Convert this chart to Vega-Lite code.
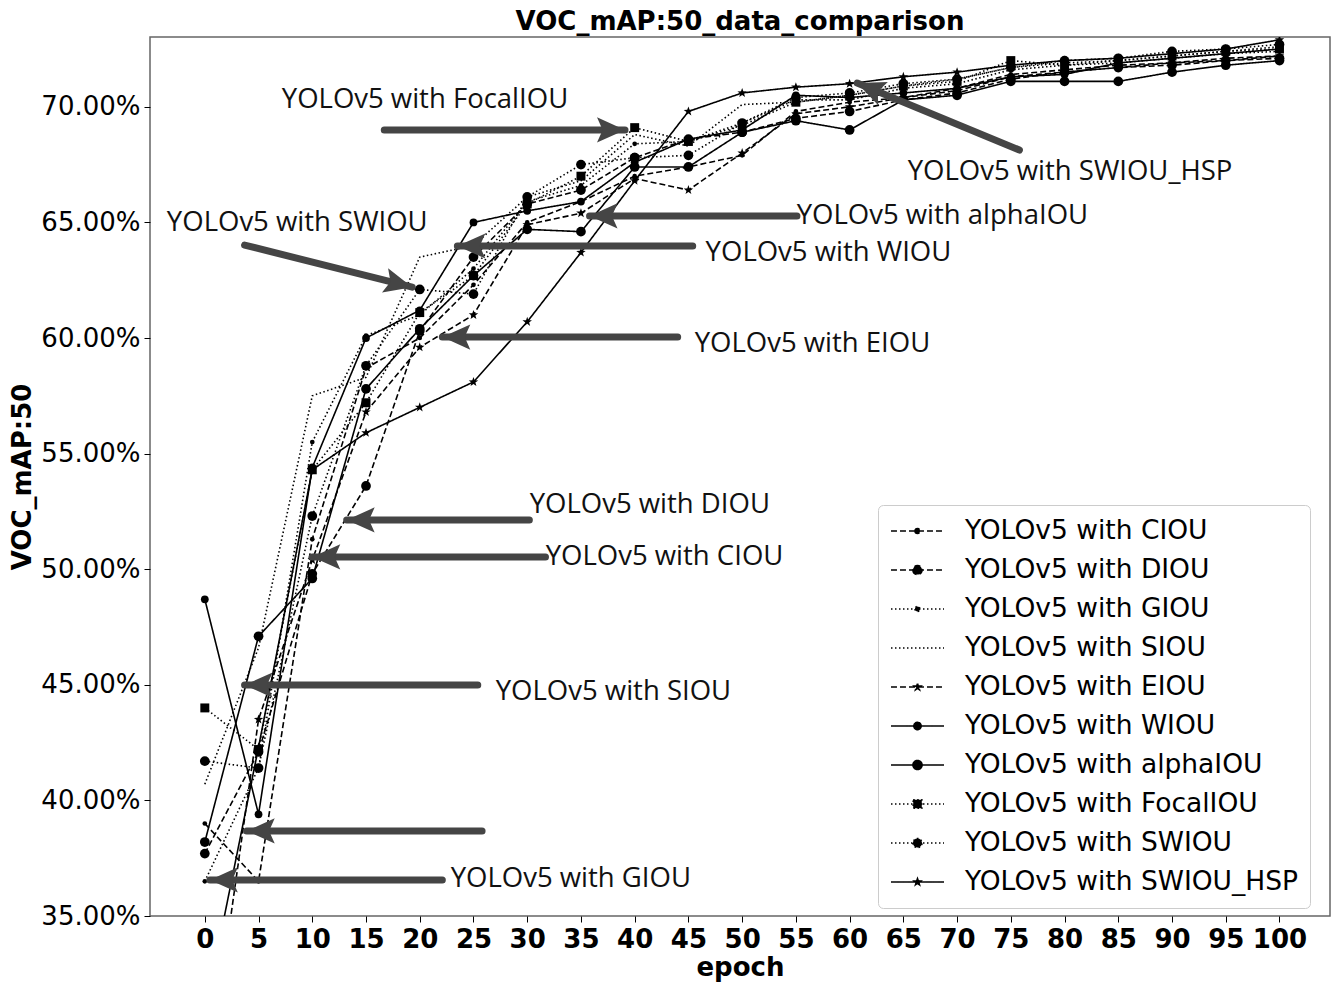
{
  "$schema": "https://vega.github.io/schema/vega-lite/v6.json",
  "width": 1180,
  "height": 879,
  "autosize": {"type": "none"},
  "padding": {"left": 150, "top": 37, "right": 3, "bottom": 67},
  "background": "white",
  "title": {"text": "VOC_mAP:50_data_comparison", "font": "DejaVu Sans", "fontSize": 26, "fontWeight": "bold", "color": "black", "anchor": "middle", "offset": 2},
  "config": {"view": {"stroke": "#666666", "strokeWidth": 1.5}},
  "datasets": {
    "curves": [
      {"model":"YOLOv5 with CIOU","epoch":0,"value":39.0},{"model":"YOLOv5 with CIOU","epoch":5,"value":36.5},{"model":"YOLOv5 with CIOU","epoch":10,"value":51.3},{"model":"YOLOv5 with CIOU","epoch":15,"value":58.7},{"model":"YOLOv5 with CIOU","epoch":20,"value":60.0},{"model":"YOLOv5 with CIOU","epoch":25,"value":62.3},{"model":"YOLOv5 with CIOU","epoch":30,"value":65.0},{"model":"YOLOv5 with CIOU","epoch":35,"value":65.9},{"model":"YOLOv5 with CIOU","epoch":40,"value":67.0},{"model":"YOLOv5 with CIOU","epoch":45,"value":67.4},{"model":"YOLOv5 with CIOU","epoch":50,"value":67.9},{"model":"YOLOv5 with CIOU","epoch":55,"value":69.8},{"model":"YOLOv5 with CIOU","epoch":60,"value":70.2},{"model":"YOLOv5 with CIOU","epoch":65,"value":70.4},{"model":"YOLOv5 with CIOU","epoch":70,"value":70.8},{"model":"YOLOv5 with CIOU","epoch":75,"value":71.4},{"model":"YOLOv5 with CIOU","epoch":80,"value":71.6},{"model":"YOLOv5 with CIOU","epoch":85,"value":71.8},{"model":"YOLOv5 with CIOU","epoch":90,"value":71.9},{"model":"YOLOv5 with CIOU","epoch":95,"value":72.1},{"model":"YOLOv5 with CIOU","epoch":100,"value":72.2},
      {"model":"YOLOv5 with DIOU","epoch":0,"value":37.7},{"model":"YOLOv5 with DIOU","epoch":5,"value":42.1},{"model":"YOLOv5 with DIOU","epoch":10,"value":49.8},{"model":"YOLOv5 with DIOU","epoch":15,"value":53.6},{"model":"YOLOv5 with DIOU","epoch":20,"value":60.3},{"model":"YOLOv5 with DIOU","epoch":25,"value":63.5},{"model":"YOLOv5 with DIOU","epoch":30,"value":65.8},{"model":"YOLOv5 with DIOU","epoch":35,"value":66.4},{"model":"YOLOv5 with DIOU","epoch":40,"value":67.8},{"model":"YOLOv5 with DIOU","epoch":45,"value":68.6},{"model":"YOLOv5 with DIOU","epoch":50,"value":68.9},{"model":"YOLOv5 with DIOU","epoch":55,"value":69.5},{"model":"YOLOv5 with DIOU","epoch":60,"value":69.8},{"model":"YOLOv5 with DIOU","epoch":65,"value":70.3},{"model":"YOLOv5 with DIOU","epoch":70,"value":70.6},{"model":"YOLOv5 with DIOU","epoch":75,"value":71.2},{"model":"YOLOv5 with DIOU","epoch":80,"value":71.5},{"model":"YOLOv5 with DIOU","epoch":85,"value":71.7},{"model":"YOLOv5 with DIOU","epoch":90,"value":71.8},{"model":"YOLOv5 with DIOU","epoch":95,"value":72.0},{"model":"YOLOv5 with DIOU","epoch":100,"value":72.1},
      {"model":"YOLOv5 with GIOU","epoch":0,"value":36.5},{"model":"YOLOv5 with GIOU","epoch":5,"value":41.4},{"model":"YOLOv5 with GIOU","epoch":10,"value":55.5},{"model":"YOLOv5 with GIOU","epoch":15,"value":60.1},{"model":"YOLOv5 with GIOU","epoch":20,"value":61.0},{"model":"YOLOv5 with GIOU","epoch":25,"value":63.0},{"model":"YOLOv5 with GIOU","epoch":30,"value":65.9},{"model":"YOLOv5 with GIOU","epoch":35,"value":66.6},{"model":"YOLOv5 with GIOU","epoch":40,"value":68.4},{"model":"YOLOv5 with GIOU","epoch":45,"value":68.5},{"model":"YOLOv5 with GIOU","epoch":50,"value":69.3},{"model":"YOLOv5 with GIOU","epoch":55,"value":70.3},{"model":"YOLOv5 with GIOU","epoch":60,"value":70.3},{"model":"YOLOv5 with GIOU","epoch":65,"value":70.8},{"model":"YOLOv5 with GIOU","epoch":70,"value":71.0},{"model":"YOLOv5 with GIOU","epoch":75,"value":71.6},{"model":"YOLOv5 with GIOU","epoch":80,"value":71.8},{"model":"YOLOv5 with GIOU","epoch":85,"value":71.9},{"model":"YOLOv5 with GIOU","epoch":90,"value":72.1},{"model":"YOLOv5 with GIOU","epoch":95,"value":72.3},{"model":"YOLOv5 with GIOU","epoch":100,"value":72.4},
      {"model":"YOLOv5 with SIOU","epoch":0,"value":40.7},{"model":"YOLOv5 with SIOU","epoch":5,"value":46.6},{"model":"YOLOv5 with SIOU","epoch":10,"value":57.5},{"model":"YOLOv5 with SIOU","epoch":15,"value":58.3},{"model":"YOLOv5 with SIOU","epoch":20,"value":63.5},{"model":"YOLOv5 with SIOU","epoch":25,"value":64.0},{"model":"YOLOv5 with SIOU","epoch":30,"value":66.1},{"model":"YOLOv5 with SIOU","epoch":35,"value":66.8},{"model":"YOLOv5 with SIOU","epoch":40,"value":68.8},{"model":"YOLOv5 with SIOU","epoch":45,"value":68.3},{"model":"YOLOv5 with SIOU","epoch":50,"value":70.1},{"model":"YOLOv5 with SIOU","epoch":55,"value":70.2},{"model":"YOLOv5 with SIOU","epoch":60,"value":70.5},{"model":"YOLOv5 with SIOU","epoch":65,"value":70.9},{"model":"YOLOv5 with SIOU","epoch":70,"value":71.2},{"model":"YOLOv5 with SIOU","epoch":75,"value":71.7},{"model":"YOLOv5 with SIOU","epoch":80,"value":71.9},{"model":"YOLOv5 with SIOU","epoch":85,"value":72.0},{"model":"YOLOv5 with SIOU","epoch":90,"value":72.2},{"model":"YOLOv5 with SIOU","epoch":95,"value":72.4},{"model":"YOLOv5 with SIOU","epoch":100,"value":72.6},
      {"model":"YOLOv5 with EIOU","epoch":0,"value":27.0},{"model":"YOLOv5 with EIOU","epoch":5,"value":43.5},{"model":"YOLOv5 with EIOU","epoch":10,"value":50.4},{"model":"YOLOv5 with EIOU","epoch":15,"value":56.8},{"model":"YOLOv5 with EIOU","epoch":20,"value":59.6},{"model":"YOLOv5 with EIOU","epoch":25,"value":61.0},{"model":"YOLOv5 with EIOU","epoch":30,"value":64.9},{"model":"YOLOv5 with EIOU","epoch":35,"value":65.4},{"model":"YOLOv5 with EIOU","epoch":40,"value":66.9},{"model":"YOLOv5 with EIOU","epoch":45,"value":66.4},{"model":"YOLOv5 with EIOU","epoch":50,"value":68.0},{"model":"YOLOv5 with EIOU","epoch":55,"value":69.7},{"model":"YOLOv5 with EIOU","epoch":60,"value":70.0},{"model":"YOLOv5 with EIOU","epoch":65,"value":70.4},{"model":"YOLOv5 with EIOU","epoch":70,"value":70.7},{"model":"YOLOv5 with EIOU","epoch":75,"value":71.3},{"model":"YOLOv5 with EIOU","epoch":80,"value":71.5},{"model":"YOLOv5 with EIOU","epoch":85,"value":71.7},{"model":"YOLOv5 with EIOU","epoch":90,"value":71.9},{"model":"YOLOv5 with EIOU","epoch":95,"value":72.0},{"model":"YOLOv5 with EIOU","epoch":100,"value":72.2},
      {"model":"YOLOv5 with WIOU","epoch":0,"value":48.7},{"model":"YOLOv5 with WIOU","epoch":5,"value":39.4},{"model":"YOLOv5 with WIOU","epoch":10,"value":54.4},{"model":"YOLOv5 with WIOU","epoch":15,"value":60.0},{"model":"YOLOv5 with WIOU","epoch":20,"value":61.2},{"model":"YOLOv5 with WIOU","epoch":25,"value":65.0},{"model":"YOLOv5 with WIOU","epoch":30,"value":65.5},{"model":"YOLOv5 with WIOU","epoch":35,"value":65.9},{"model":"YOLOv5 with WIOU","epoch":40,"value":67.6},{"model":"YOLOv5 with WIOU","epoch":45,"value":68.6},{"model":"YOLOv5 with WIOU","epoch":50,"value":69.0},{"model":"YOLOv5 with WIOU","epoch":55,"value":70.5},{"model":"YOLOv5 with WIOU","epoch":60,"value":70.4},{"model":"YOLOv5 with WIOU","epoch":65,"value":70.6},{"model":"YOLOv5 with WIOU","epoch":70,"value":70.8},{"model":"YOLOv5 with WIOU","epoch":75,"value":71.3},{"model":"YOLOv5 with WIOU","epoch":80,"value":71.4},{"model":"YOLOv5 with WIOU","epoch":85,"value":71.9},{"model":"YOLOv5 with WIOU","epoch":90,"value":72.1},{"model":"YOLOv5 with WIOU","epoch":95,"value":72.3},{"model":"YOLOv5 with WIOU","epoch":100,"value":72.5},
      {"model":"YOLOv5 with alphaIOU","epoch":0,"value":38.2},{"model":"YOLOv5 with alphaIOU","epoch":5,"value":47.1},{"model":"YOLOv5 with alphaIOU","epoch":10,"value":49.6},{"model":"YOLOv5 with alphaIOU","epoch":15,"value":57.8},{"model":"YOLOv5 with alphaIOU","epoch":20,"value":60.4},{"model":"YOLOv5 with alphaIOU","epoch":25,"value":62.7},{"model":"YOLOv5 with alphaIOU","epoch":30,"value":64.7},{"model":"YOLOv5 with alphaIOU","epoch":35,"value":64.6},{"model":"YOLOv5 with alphaIOU","epoch":40,"value":67.4},{"model":"YOLOv5 with alphaIOU","epoch":45,"value":67.4},{"model":"YOLOv5 with alphaIOU","epoch":50,"value":68.9},{"model":"YOLOv5 with alphaIOU","epoch":55,"value":69.4},{"model":"YOLOv5 with alphaIOU","epoch":60,"value":69.0},{"model":"YOLOv5 with alphaIOU","epoch":65,"value":70.3},{"model":"YOLOv5 with alphaIOU","epoch":70,"value":70.5},{"model":"YOLOv5 with alphaIOU","epoch":75,"value":71.1},{"model":"YOLOv5 with alphaIOU","epoch":80,"value":71.1},{"model":"YOLOv5 with alphaIOU","epoch":85,"value":71.1},{"model":"YOLOv5 with alphaIOU","epoch":90,"value":71.5},{"model":"YOLOv5 with alphaIOU","epoch":95,"value":71.8},{"model":"YOLOv5 with alphaIOU","epoch":100,"value":72.0},
      {"model":"YOLOv5 with FocalIOU","epoch":0,"value":44.0},{"model":"YOLOv5 with FocalIOU","epoch":5,"value":42.2},{"model":"YOLOv5 with FocalIOU","epoch":10,"value":54.3},{"model":"YOLOv5 with FocalIOU","epoch":15,"value":57.2},{"model":"YOLOv5 with FocalIOU","epoch":20,"value":61.1},{"model":"YOLOv5 with FocalIOU","epoch":25,"value":62.7},{"model":"YOLOv5 with FocalIOU","epoch":30,"value":65.8},{"model":"YOLOv5 with FocalIOU","epoch":35,"value":67.0},{"model":"YOLOv5 with FocalIOU","epoch":40,"value":69.1},{"model":"YOLOv5 with FocalIOU","epoch":45,"value":68.5},{"model":"YOLOv5 with FocalIOU","epoch":50,"value":69.2},{"model":"YOLOv5 with FocalIOU","epoch":55,"value":70.2},{"model":"YOLOv5 with FocalIOU","epoch":60,"value":70.5},{"model":"YOLOv5 with FocalIOU","epoch":65,"value":70.9},{"model":"YOLOv5 with FocalIOU","epoch":70,"value":71.1},{"model":"YOLOv5 with FocalIOU","epoch":75,"value":72.0},{"model":"YOLOv5 with FocalIOU","epoch":80,"value":71.8},{"model":"YOLOv5 with FocalIOU","epoch":85,"value":72.0},{"model":"YOLOv5 with FocalIOU","epoch":90,"value":72.2},{"model":"YOLOv5 with FocalIOU","epoch":95,"value":72.4},{"model":"YOLOv5 with FocalIOU","epoch":100,"value":72.5},
      {"model":"YOLOv5 with SWIOU","epoch":0,"value":41.7},{"model":"YOLOv5 with SWIOU","epoch":5,"value":41.4},{"model":"YOLOv5 with SWIOU","epoch":10,"value":52.3},{"model":"YOLOv5 with SWIOU","epoch":15,"value":58.8},{"model":"YOLOv5 with SWIOU","epoch":20,"value":62.1},{"model":"YOLOv5 with SWIOU","epoch":25,"value":61.9},{"model":"YOLOv5 with SWIOU","epoch":30,"value":66.1},{"model":"YOLOv5 with SWIOU","epoch":35,"value":67.5},{"model":"YOLOv5 with SWIOU","epoch":40,"value":67.8},{"model":"YOLOv5 with SWIOU","epoch":45,"value":67.9},{"model":"YOLOv5 with SWIOU","epoch":50,"value":69.3},{"model":"YOLOv5 with SWIOU","epoch":55,"value":70.4},{"model":"YOLOv5 with SWIOU","epoch":60,"value":70.6},{"model":"YOLOv5 with SWIOU","epoch":65,"value":71.0},{"model":"YOLOv5 with SWIOU","epoch":70,"value":71.2},{"model":"YOLOv5 with SWIOU","epoch":75,"value":71.7},{"model":"YOLOv5 with SWIOU","epoch":80,"value":72.0},{"model":"YOLOv5 with SWIOU","epoch":85,"value":72.1},{"model":"YOLOv5 with SWIOU","epoch":90,"value":72.4},{"model":"YOLOv5 with SWIOU","epoch":95,"value":72.5},{"model":"YOLOv5 with SWIOU","epoch":100,"value":72.7},
      {"model":"YOLOv5 with SWIOU_HSP","epoch":0,"value":30.8},{"model":"YOLOv5 with SWIOU_HSP","epoch":5,"value":42.3},{"model":"YOLOv5 with SWIOU_HSP","epoch":10,"value":54.3},{"model":"YOLOv5 with SWIOU_HSP","epoch":15,"value":55.9},{"model":"YOLOv5 with SWIOU_HSP","epoch":20,"value":57.0},{"model":"YOLOv5 with SWIOU_HSP","epoch":25,"value":58.1},{"model":"YOLOv5 with SWIOU_HSP","epoch":30,"value":60.7},{"model":"YOLOv5 with SWIOU_HSP","epoch":35,"value":63.7},{"model":"YOLOv5 with SWIOU_HSP","epoch":40,"value":66.8},{"model":"YOLOv5 with SWIOU_HSP","epoch":45,"value":69.8},{"model":"YOLOv5 with SWIOU_HSP","epoch":50,"value":70.6},{"model":"YOLOv5 with SWIOU_HSP","epoch":55,"value":70.85},{"model":"YOLOv5 with SWIOU_HSP","epoch":60,"value":71.0},{"model":"YOLOv5 with SWIOU_HSP","epoch":65,"value":71.3},{"model":"YOLOv5 with SWIOU_HSP","epoch":70,"value":71.5},{"model":"YOLOv5 with SWIOU_HSP","epoch":75,"value":71.8},{"model":"YOLOv5 with SWIOU_HSP","epoch":80,"value":72.0},{"model":"YOLOv5 with SWIOU_HSP","epoch":85,"value":72.1},{"model":"YOLOv5 with SWIOU_HSP","epoch":90,"value":72.3},{"model":"YOLOv5 with SWIOU_HSP","epoch":95,"value":72.5},{"model":"YOLOv5 with SWIOU_HSP","epoch":100,"value":72.9}
    ],
    "arrows": [
      {"target":"FocalIOU","epoch":39.1,"value":69.0,"epoch2":16.7,"value2":69.0},
      {"target":"SWIOU_HSP","epoch":60.7,"value":71.03,"epoch2":75.8,"value2":68.13},
      {"target":"alphaIOU","epoch":35.8,"value":65.28,"epoch2":55.1,"value2":65.28},
      {"target":"WIOU","epoch":23.5,"value":63.98,"epoch2":45.4,"value2":63.98},
      {"target":"SWIOU","epoch":19.3,"value":62.2,"epoch2":3.7,"value2":64.02},
      {"target":"EIOU","epoch":22.1,"value":60.04,"epoch2":44.0,"value2":60.04},
      {"target":"DIOU","epoch":13.2,"value":52.13,"epoch2":30.2,"value2":52.13},
      {"target":"CIOU","epoch":10.0,"value":50.53,"epoch2":31.7,"value2":50.53},
      {"target":"SIOU","epoch":3.7,"value":44.99,"epoch2":25.4,"value2":44.99},
      {"target":"none","epoch":3.9,"value":38.68,"epoch2":25.8,"value2":38.68},
      {"target":"GIOU","epoch":0.47,"value":36.56,"epoch2":22.1,"value2":36.56}
    ],
    "notes": [
      {"label":"YOLOv5 with FocalIOU","epoch":7.16,"value":70.29},
      {"label":"YOLOv5 with SWIOU_HSP","epoch":65.4,"value":67.18},
      {"label":"YOLOv5 with alphaIOU","epoch":55.07,"value":65.28},
      {"label":"YOLOv5 with WIOU","epoch":46.6,"value":63.68},
      {"label":"YOLOv5 with SWIOU","epoch":-3.53,"value":64.97},
      {"label":"YOLOv5 with EIOU","epoch":45.58,"value":59.74},
      {"label":"YOLOv5 with DIOU","epoch":30.23,"value":52.78},
      {"label":"YOLOv5 with CIOU","epoch":31.72,"value":50.53},
      {"label":"YOLOv5 with SIOU","epoch":27.07,"value":44.69},
      {"label":"YOLOv5 with GIOU","epoch":22.88,"value":36.6}
    ]
  },
  "encoding": {
    "x": {"field": "epoch", "type": "quantitative", "scale": {"domain": [-5.1, 104.7], "nice": false, "zero": false},
      "axis": {"values": [0,5,10,15,20,25,30,35,40,45,50,55,60,65,70,75,80,85,90,95,100], "title": "epoch", "grid": false, "domain": false, "tickColor": "black", "tickSize": 6, "labelFont": "DejaVu Sans", "labelFontSize": 26, "labelFontWeight": "bold", "labelColor": "black", "labelPadding": 4, "labelFlush": false, "labelOverlap": false, "titleFont": "DejaVu Sans", "titleFontSize": 26, "titleFontWeight": "bold", "titleColor": "black", "titlePadding": 2}},
    "y": {"field": "value", "type": "quantitative", "scale": {"domain": [35, 73.02], "nice": false, "zero": false},
      "axis": {"values": [35,40,45,50,55,60,65,70], "labelExpr": "format(datum.value, '.2f') + '%'", "title": "VOC_mAP:50", "grid": false, "domain": false, "tickColor": "black", "tickSize": 6, "labelFont": "DejaVu Sans", "labelFontSize": 26, "labelColor": "black", "labelPadding": 4, "labelFlush": false, "titleFont": "DejaVu Sans", "titleFontSize": 26, "titleFontWeight": "bold", "titleColor": "black", "titlePadding": 5}}
  },
  "layer": [
    {
      "data": {"name": "curves"},
      "mark": {"type": "line", "strokeWidth": 1.6, "color": "black", "clip": true},
      "encoding": {
        "strokeDash": {"field": "model", "type": "nominal",
          "scale": {"domain": ["YOLOv5 with CIOU","YOLOv5 with DIOU","YOLOv5 with GIOU","YOLOv5 with SIOU","YOLOv5 with EIOU","YOLOv5 with WIOU","YOLOv5 with alphaIOU","YOLOv5 with FocalIOU","YOLOv5 with SWIOU","YOLOv5 with SWIOU_HSP"],
            "range": [[6,3],[6,3],[1.5,2.5],[1.5,2.5],[6,3],[1,0],[1,0],[1.5,2.5],[1.5,2.5],[1,0]]},
          "legend": {"title": null, "orient": "none", "legendX": 728, "legendY": 468, "labelFont": "DejaVu Sans", "labelFontSize": 26.5, "labelColor": "black", "labelLimit": 600, "symbolSize": 676, "symbolOffset": 13.5, "symbolStrokeWidth": 1.6, "symbolStrokeColor": "black", "symbolType": "stroke", "strokeColor": "#cccccc", "fillColor": "white", "padding": 12, "cornerRadius": 5, "rowPadding": 11, "labelOffset": 33.5,
            "encode": {"symbols": {"update": {
              "shape": {"signal": "['M-2.04,0H2.04M-0.19,0A0.19,0.19 0 1,0 0.19,0A0.19,0.19 0 1,0 -0.19,0Z','M-2.04,0H2.04M-0.35,0A0.35,0.35 0 1,0 0.35,0A0.35,0.35 0 1,0 -0.35,0Z','M-2.04,0H2.04M-0.19,0A0.19,0.19 0 1,0 0.19,0A0.19,0.19 0 1,0 -0.19,0Z','M-2.04,0H2.04','M-2.04,0H2.04M0,-0.26L0.062,-0.084L0.248,-0.08L0.098,0.032L0.152,0.21L0,0.104L-0.152,0.21L-0.098,0.032L-0.248,-0.08L-0.062,-0.084Z','M-2.04,0H2.04M-0.28,0A0.28,0.28 0 1,0 0.28,0A0.28,0.28 0 1,0 -0.28,0Z','M-2.04,0H2.04M-0.35,0A0.35,0.35 0 1,0 0.35,0A0.35,0.35 0 1,0 -0.35,0Z','M-2.04,0H2.04M-0.33,-0.33H0.33V0.33H-0.33Z','M-2.04,0H2.04M-0.35,0A0.35,0.35 0 1,0 0.35,0A0.35,0.35 0 1,0 -0.35,0Z','M-2.04,0H2.04M0,-0.26L0.062,-0.084L0.248,-0.08L0.098,0.032L0.152,0.21L0,0.104L-0.152,0.21L-0.098,0.032L-0.248,-0.08L-0.062,-0.084Z'][datum.index]"},
              "fill": {"value": "black"},
              "fillOpacity": {"value": 1},
              "stroke": {"value": "black"}
            }}}}
        }
      }
    },
    {
      "data": {"name": "curves"},
      "transform": [{"filter": {"field": "model", "oneOf": ["YOLOv5 with DIOU","YOLOv5 with alphaIOU","YOLOv5 with SWIOU"]}}],
      "mark": {"type": "point", "filled": true, "color": "black", "opacity": 1, "shape": "circle", "size": 95, "clip": true}
    },
    {
      "data": {"name": "curves"},
      "transform": [{"filter": {"field": "model", "oneOf": ["YOLOv5 with WIOU"]}}],
      "mark": {"type": "point", "filled": true, "color": "black", "opacity": 1, "shape": "circle", "size": 60, "clip": true}
    },
    {
      "data": {"name": "curves"},
      "transform": [{"filter": {"field": "model", "oneOf": ["YOLOv5 with CIOU","YOLOv5 with GIOU"]}}],
      "mark": {"type": "point", "filled": true, "color": "black", "opacity": 1, "shape": "circle", "size": 22, "clip": true}
    },
    {
      "data": {"name": "curves"},
      "transform": [{"filter": {"field": "model", "oneOf": ["YOLOv5 with FocalIOU"]}}],
      "mark": {"type": "point", "filled": true, "color": "black", "opacity": 1, "shape": "square", "size": 80, "clip": true}
    },
    {
      "data": {"name": "curves"},
      "transform": [{"filter": {"field": "model", "oneOf": ["YOLOv5 with EIOU","YOLOv5 with SWIOU_HSP"]}}],
      "mark": {"type": "point", "filled": true, "color": "black", "opacity": 1, "shape": "M0,-1L0.235,-0.324L0.951,-0.309L0.38,0.124L0.588,0.809L0,0.4L-0.588,0.809L-0.38,0.124L-0.951,-0.309L-0.235,-0.324Z", "size": 100, "clip": true}
    },
    {
      "data": {"name": "arrows"},
      "mark": {"type": "rule", "color": "#454545", "strokeWidth": 7, "strokeCap": "round"},
      "encoding": {
        "x2": {"field": "epoch2"},
        "y2": {"field": "value2"}
      }
    },
    {
      "data": {"name": "arrows"},
      "transform": [{"filter": {"field": "target", "oneOf": ["alphaIOU","WIOU","EIOU","DIOU","CIOU","SIOU","none","GIOU"]}}],
      "mark": {"type": "point", "filled": true, "color": "#454545", "opacity": 1, "shape": "M0,0L4,-1.8L3.2,0L4,1.8Z", "size": 196}
    },
    {
      "data": {"name": "arrows"},
      "transform": [{"filter": {"field": "target", "oneOf": ["FocalIOU"]}}],
      "mark": {"type": "point", "filled": true, "color": "#454545", "opacity": 1, "shape": "M0,0L4,-1.8L3.2,0L4,1.8Z", "size": 196, "angle": 180}
    },
    {
      "data": {"name": "arrows"},
      "transform": [{"filter": {"field": "target", "oneOf": ["SWIOU"]}}],
      "mark": {"type": "point", "filled": true, "color": "#454545", "opacity": 1, "shape": "M0,0L4,-1.8L3.2,0L4,1.8Z", "size": 196, "angle": 194}
    },
    {
      "data": {"name": "arrows"},
      "transform": [{"filter": {"field": "target", "oneOf": ["SWIOU_HSP"]}}],
      "mark": {"type": "point", "filled": true, "color": "#454545", "opacity": 1, "shape": "M0,0L4,-1.8L3.2,0L4,1.8Z", "size": 196, "angle": 22.5}
    },
    {
      "data": {"name": "notes"},
      "mark": {"type": "text", "align": "left", "baseline": "middle", "font": "Open Sans", "fontSize": 27.5, "color": "#111111"},
      "encoding": {"text": {"field": "label"}}
    }
  ]
}
